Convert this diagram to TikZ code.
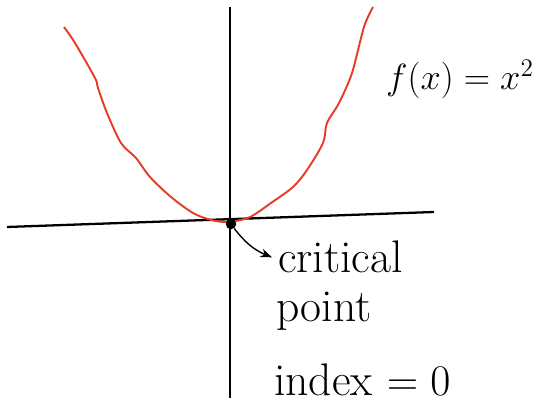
\documentclass[tikz,border=0pt]{standalone}
\usepackage{amsmath}
\usetikzlibrary{arrows.meta,positioning}
\definecolor{CurveRed}{RGB}{232,60,40}
\begin{document}
\begin{tikzpicture}[x=0.02cm,y=-0.02cm,>=Stealth,
    lbl/.style={anchor=base west,font=\fontsize{26}{30}\selectfont}]
      \useasboundingbox (0,0) rectangle (559,404);
      % axes
      \draw[line width=1.3pt] (230,7)--(230,398);
      \draw[line width=1.3pt] (7,227)--(434,212);
      % the parabola, wobbly like the sketch
      \draw[CurveRed,line width=1.1pt] plot[smooth] coordinates{
        (64,27) (75,43) (95,78) (98,88) (107,113) (121,143) (136,158)
        (150,177) (171,197) (193,213) (211,220) (229,222) (250,217)
        (271,203) (293,187) (307,170) (323,143) (327,123) (339,103)
        (352,73) (364,27) (373,7)};
      \node[circle,fill,inner sep=0pt,minimum size=6pt] (cp) at (231,224) {};
      \node[lbl,font=\fontsize{21}{25}\selectfont] (fx) at (380,90) {$f(x)=x^2$};
      \node[lbl] (crit) at (272,273) {critical};
      \node[lbl] (pt) at (270,322) {point};
      \node[lbl] (idx) at (268,396) {index $=0$};
      \draw[->,thick] (cp) to[bend right=15] (crit.west);
    \end{tikzpicture}
\end{document}
